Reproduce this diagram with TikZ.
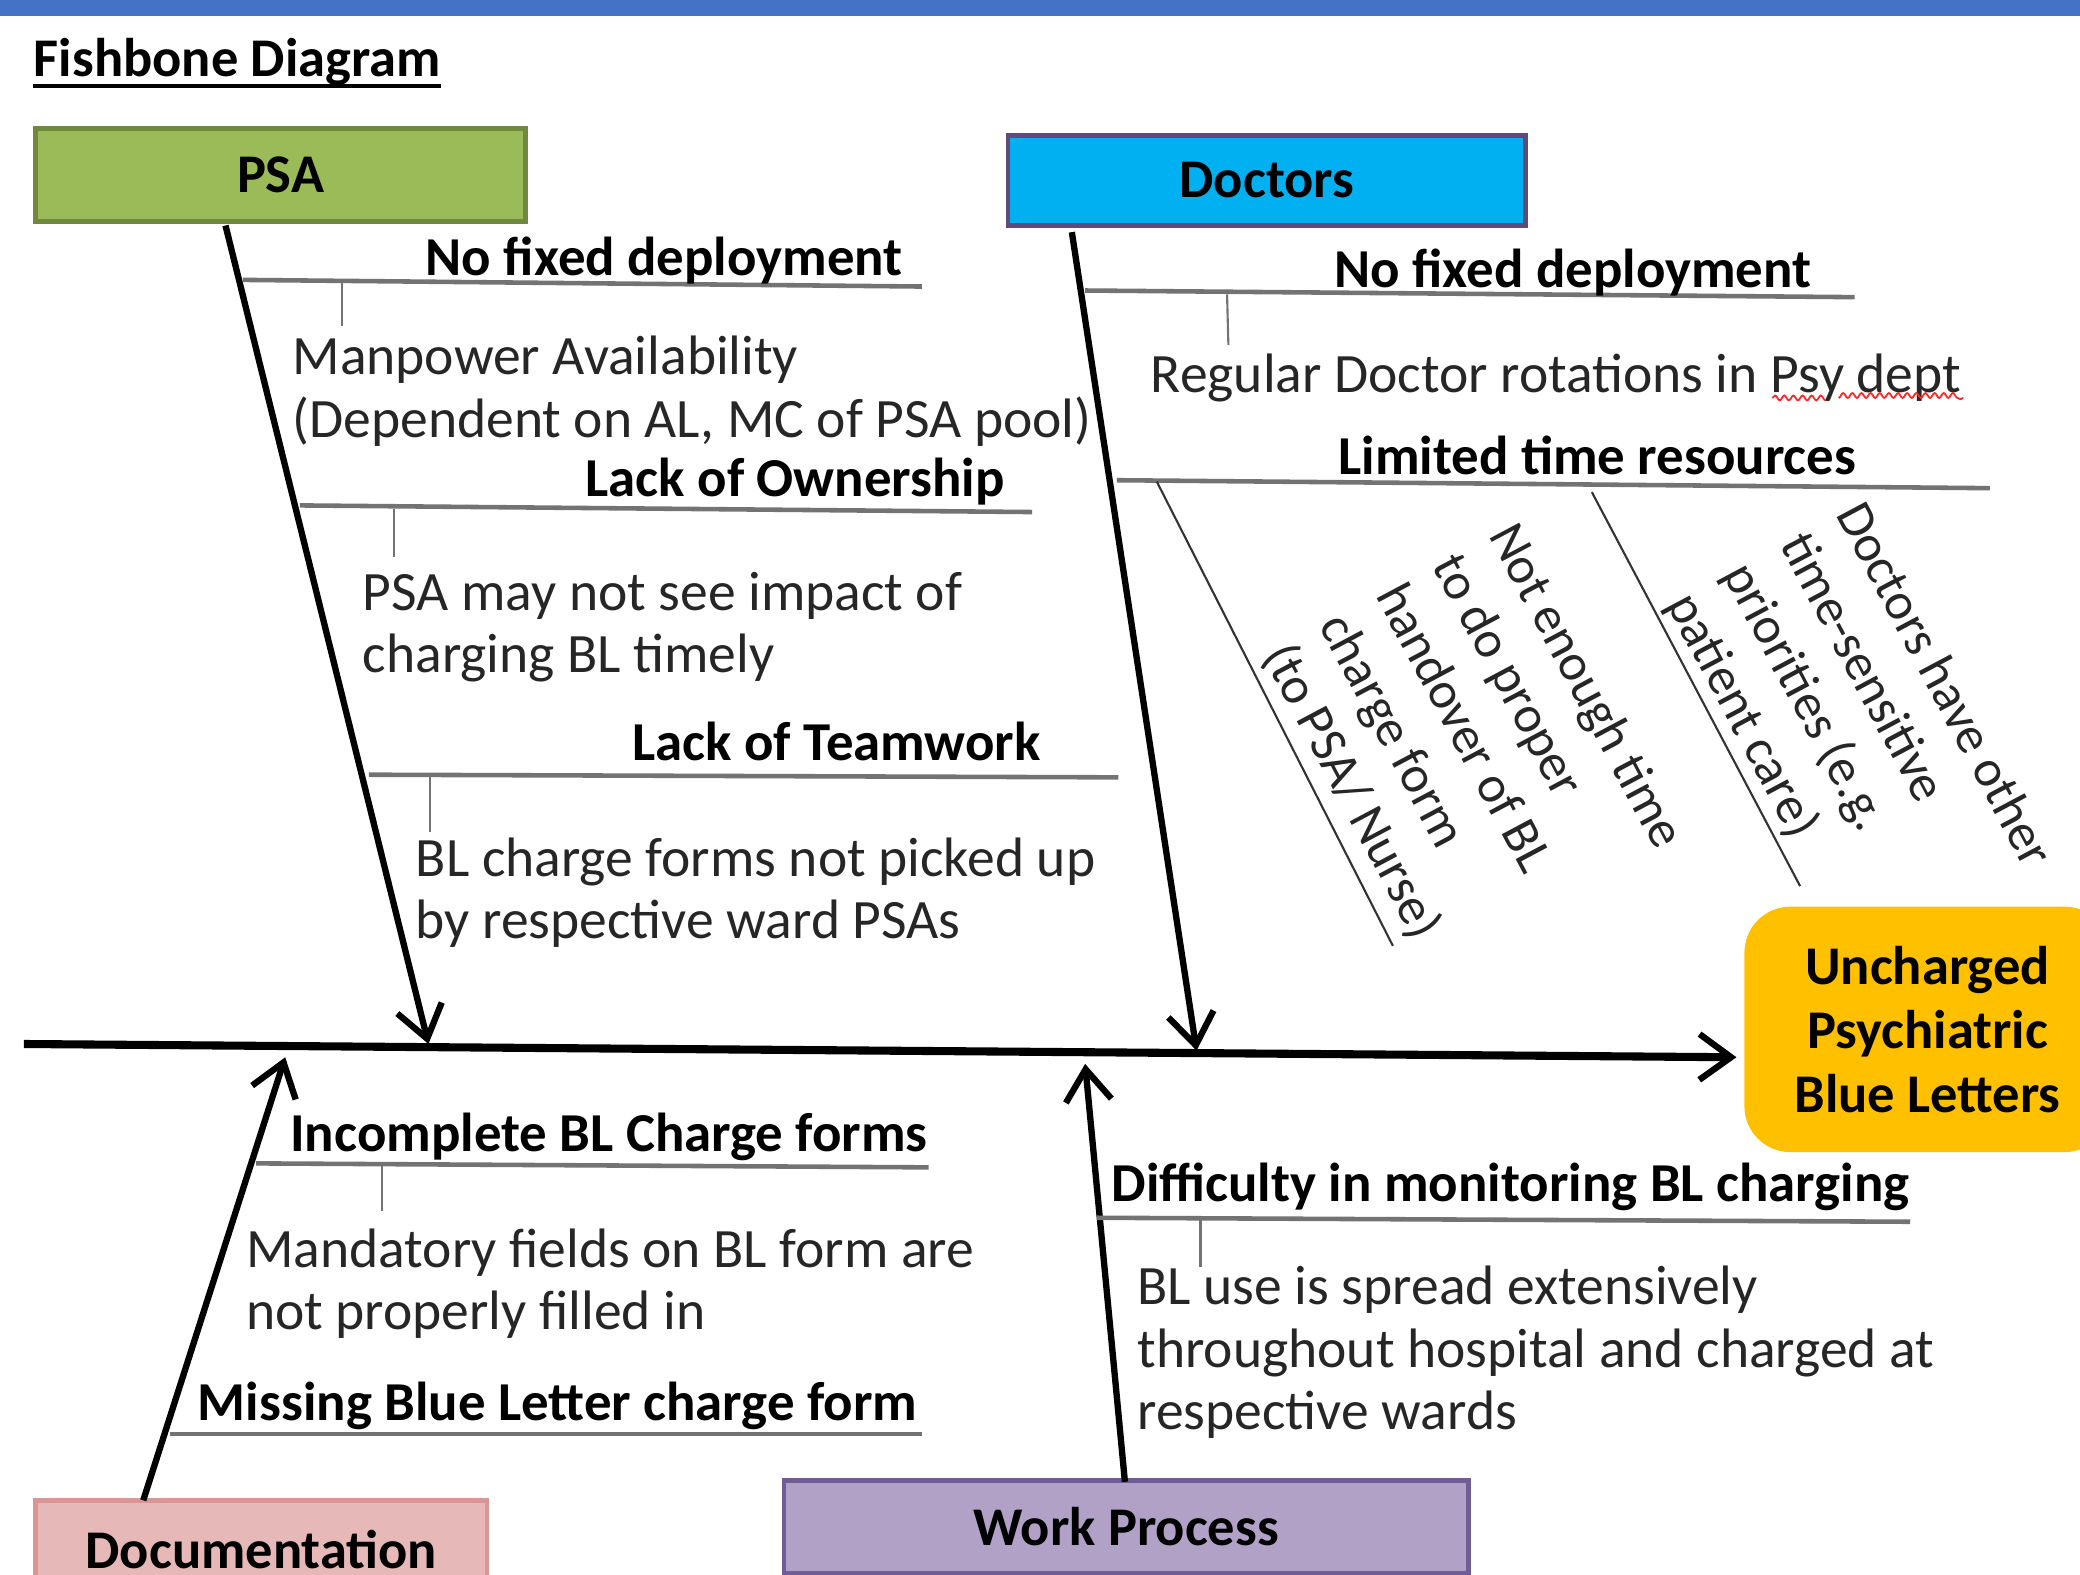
\documentclass[tikz,border=0pt]{standalone}
\usepackage{fontspec}
\setmainfont{Carlito}
\usetikzlibrary{arrows.meta,decorations.pathmorphing}

\definecolor{barblue}{RGB}{68,114,196}
\definecolor{psagreen}{RGB}{155,187,89}
\definecolor{psaedge}{RGB}{113,137,63}
\definecolor{docblue}{RGB}{0,176,240}
\definecolor{docedge}{RGB}{96,74,123}
\definecolor{effectgold}{RGB}{255,192,0}
\definecolor{docupink}{RGB}{230,185,184}
\definecolor{docuedge}{RGB}{217,150,148}
\definecolor{wplilac}{RGB}{178,161,199}
\definecolor{wpedge}{RGB}{112,92,150}

\begin{document}
\begin{tikzpicture}[x=0.013265cm,y=-0.013265cm,
  catbox/.style={draw,line width=1.3pt,inner sep=0pt,
                 font=\bfseries\fontsize{15.5}{18.2}\selectfont},
  bone/.style={line width=1.8pt,-{Straight Barb[length=9pt,width=13pt,line width=1.8pt]}},
  twig/.style={line width=1.3pt,black!55},
  tick/.style={line width=0.6pt,black!55},
  cause/.style={inner sep=0pt,font=\bfseries\fontsize{15.6}{18}\selectfont},
  detail/.style={anchor=north west,inner sep=0pt,align=left,text=black!85,
                 font=\fontsize{15.8}{17.7}\selectfont},
  slanted/.style={detail,rotate=-62,font=\fontsize{14.8}{18.2}\selectfont}]
  \useasboundingbox (0,0) rectangle (1568,1187);
  \clip (0,0) rectangle (1568,1187);
  \fill[barblue] (0,0) rectangle (1568,12);

  \node[anchor=base west,inner sep=0pt,font=\bfseries\fontsize{15.5}{18}\selectfont]
    (title) at (25,58) {Fishbone Diagram};
  \draw[line width=1.1pt] ([yshift=-2.6pt]title.base west) -- ([yshift=-2.6pt]title.base east);

  % category boxes and the effect
  \node[catbox,fill=psagreen,draw=psaedge,minimum width=4.895cm,minimum height=0.929cm]
    (psa) at (211.5,132) {PSA};
  \node[catbox,fill=docblue,draw=docedge,minimum width=5.173cm,minimum height=0.902cm]
    (doctors) at (955,136) {Doctors};
  \node[catbox,fill=docupink,draw=docuedge,minimum width=4.51cm,minimum height=0.98cm]
    (docu) at (197,1168) {Documentation};
  \node[catbox,fill=wplilac,draw=wpedge,minimum width=6.845cm,minimum height=0.929cm]
    (work) at (849,1151) {Work Process};
  \node[catbox,fill=effectgold,draw=none,rounded corners=0.46cm,align=center,
        minimum width=3.66cm,minimum height=2.454cm]
    (effect) at (1453,776) {Uncharged\\Psychiatric\\Blue Letters};

  % spine and the four bones
  \coordinate (tail) at (18,787);
  \coordinate (head) at (1309,797);
  \draw[bone,line width=2.3pt] (tail) -- (head);
  \coordinate (psa-root) at (170,170);
  \coordinate (psa-tip) at (323,787);
  \coordinate (doc-root) at (808,175);
  \coordinate (doc-tip) at (902,792);
  \coordinate (docu-root) at (108,1131);
  \coordinate (docu-tip) at (215,797);
  \coordinate (work-root) at (848,1117);
  \coordinate (work-tip) at (818,802);
  \draw[bone] (psa-root) -- (psa-tip);
  \draw[bone] (doc-root) -- (doc-tip);
  \draw[bone] (docu-root) -- (docu-tip);
  \draw[bone] (work-root) -- (work-tip);

  % PSA causes
  \draw[twig] (183,211) -- (695,216);
  \draw[tick] (258,213) -- (258,246);
  \node[cause,anchor=base east] (psa-c1) at (681,208) {No fixed deployment};
  \node[detail] (psa-d1) at (220,253) {Manpower Availability\\(Dependent on AL, MC of PSA pool)};
  \draw[twig] (226,381) -- (778,386);
  \draw[tick] (297,384) -- (297,420);
  \node[cause,anchor=base east] (psa-c2) at (758,374) {Lack of Ownership};
  \node[detail] (psa-d2) at (273,431) {PSA may not see impact of\\charging BL timely};
  \draw[twig] (278,584) -- (843,586);
  \draw[tick] (324,585) -- (324,627);
  \node[cause,anchor=base east] (psa-c3) at (785,573) {Lack of Teamwork};
  \node[detail] (psa-d3) at (313,631) {BL charge forms not picked up\\by respective ward PSAs};

  % Doctors causes
  \draw[twig] (818,219) -- (1398,224);
  \draw[tick] (925,222) -- (926,260);
  \node[cause,anchor=base east] (doc-c1) at (1366,217) {No fixed deployment};
  \node[detail] (doc-d1) at (867,266) {Regular Doctor rotations in Psy dept};
  \draw[red!85,line width=0.5pt,decorate,decoration={snake,amplitude=0.7pt,segment length=2.6pt}]
    (1336,300) -- (1374,300) (1386,300) -- (1480,300);
  \draw[twig] (842,362) -- (1500,368);
  \node[cause,anchor=base east] (doc-c2) at (1400,358) {Limited time resources};
  \draw[tick,black!80] (872,363) -- (1050,713);
  \draw[tick,black!80] (1200,371) -- (1357,668);
  \node[slanted] (doc-d2) at (1146,390) {Not enough time\\to do proper\\handover of BL\\charge form\\(to PSA/ Nurse)};
  \node[slanted] (doc-d3) at (1408,374) {Doctors have other\\time-sensitive\\priorities (e.g.\\patient care)};

  % Documentation causes
  \draw[twig] (193,877) -- (700,880);
  \draw[tick] (288,879) -- (288,913);
  \node[cause,anchor=base east] (docu-c1) at (700,868) {Incomplete BL Charge forms};
  \node[detail] (docu-d1) at (185,926) {Mandatory fields on BL form are\\not properly filled in};
  \draw[twig] (128,1081) -- (695,1081);
  \node[cause,anchor=base east] (docu-c2) at (692,1071) {Missing Blue Letter charge form};

  % Work process causes
  \draw[twig] (827,918) -- (1440,921);
  \draw[tick] (905,920) -- (905,955);
  \node[cause,anchor=base east] (work-c1) at (1440,906) {Difficulty in monitoring BL charging};
  \node[detail] (work-d1) at (857,954) {BL use is spread extensively\\throughout hospital and charged at\\respective wards};
\end{tikzpicture}
\end{document}
